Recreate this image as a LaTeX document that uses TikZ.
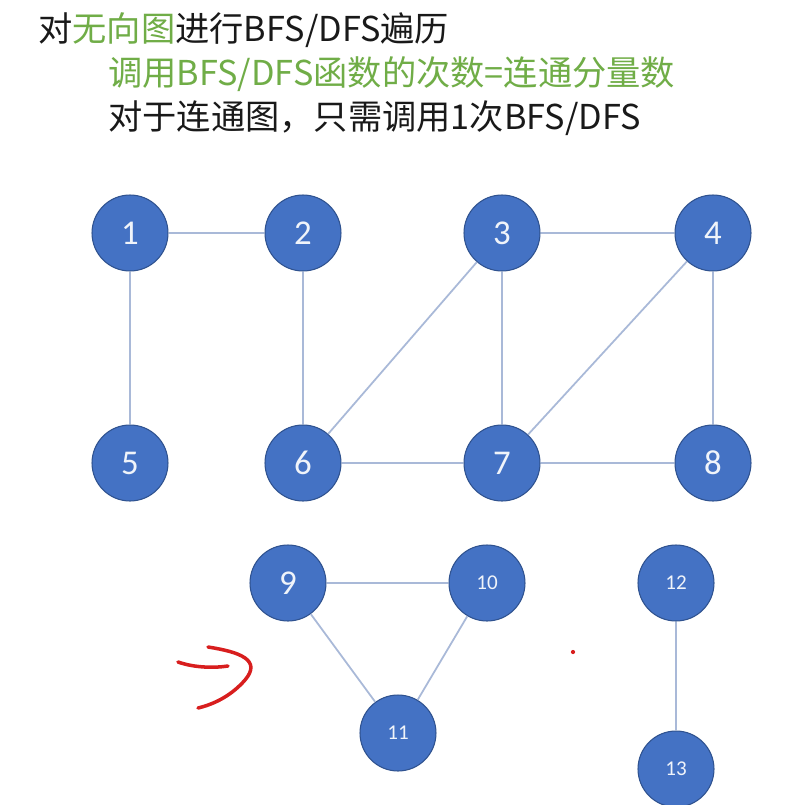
\documentclass[tikz,border=0pt]{standalone}
\usepackage{fontspec}
\setmainfont{Carlito}
\newfontfamily\cjk{Noto Sans CJK SC}
\definecolor{nodeblue}{HTML}{4472C4}
\definecolor{rimblue}{HTML}{2F528F}
\definecolor{linkblue}{HTML}{A9B9D8}
\definecolor{textgreen}{HTML}{70AD47}
\definecolor{inkred}{HTML}{D81E1E}
\begin{document}
\begin{tikzpicture}[x=0.02cm,y=-0.02cm,
	vertex/.style={circle,fill=nodeblue,draw=rimblue,line width=0.6pt,minimum size=1.52cm,inner sep=0pt,text=white!92!nodeblue,font=\fontsize{19.8}{20}\selectfont},
	smallvertex/.style={vertex,font=\fontsize{12}{12}\selectfont},
	link/.style={draw=linkblue,line width=1pt},
	textline/.style={anchor=west,inner sep=0pt,text=black!90,font=\cjk\fontsize{19.5}{24}\selectfont},
	ink/.style={draw=inkred,line width=2pt,line cap=round}]
	\useasboundingbox[fill=white] (0,0) rectangle (785,805);
	% heading
	\node[textline] (t1) at (38,30) {对\textcolor{textgreen}{无向图}进行BFS/DFS遍历};
	\node[textline,text=textgreen] (t2) at (108,74) {调用BFS/DFS函数的次数=连通分量数};
	\node[textline] (t3) at (108,118) {对于连通图，只需调用1次BFS/DFS};
	% vertices
	\node[vertex] (v1) at (130,233) {1};
	\node[vertex] (v2) at (303,233) {2};
	\node[vertex] (v3) at (502,233) {3};
	\node[vertex] (v4) at (713,233) {4};
	\node[vertex] (v5) at (130,463) {5};
	\node[vertex] (v6) at (303,463) {6};
	\node[vertex] (v7) at (502,463) {7};
	\node[vertex] (v8) at (713,463) {8};
	\node[vertex] (v9) at (288,583) {9};
	\node[smallvertex] (v10) at (487,583) {10};
	\node[smallvertex] (v11) at (398,733) {11};
	\node[smallvertex] (v12) at (676,583) {12};
	\node[smallvertex] (v13) at (676,769) {13};
	% edges
	\draw[link] (v1)--(v2);
	\draw[link] (v1)--(v5);
	\draw[link] (v2)--(v6);
	\draw[link] (v3)--(v4);
	\draw[link] (v3)--(v6);
	\draw[link] (v3)--(v7);
	\draw[link] (v4)--(v7);
	\draw[link] (v4)--(v8);
	\draw[link] (v6)--(v7);
	\draw[link] (v7)--(v8);
	\draw[link] (v9)--(v10);
	\draw[link] (v9)--(v11);
	\draw[link] (v10)--(v11);
	\draw[link] (v12)--(v13);
	% red marks
	\draw[ink] (178,662) .. controls (195,668) and (215,668) .. (228,666);
	\draw[ink] (208,647) .. controls (240,652) and (262,660) .. (245,680) .. controls (232,695) and (215,704) .. (198,708);
	\fill[inkred] (573,652) circle (1.2pt);
\end{tikzpicture}
\end{document}
